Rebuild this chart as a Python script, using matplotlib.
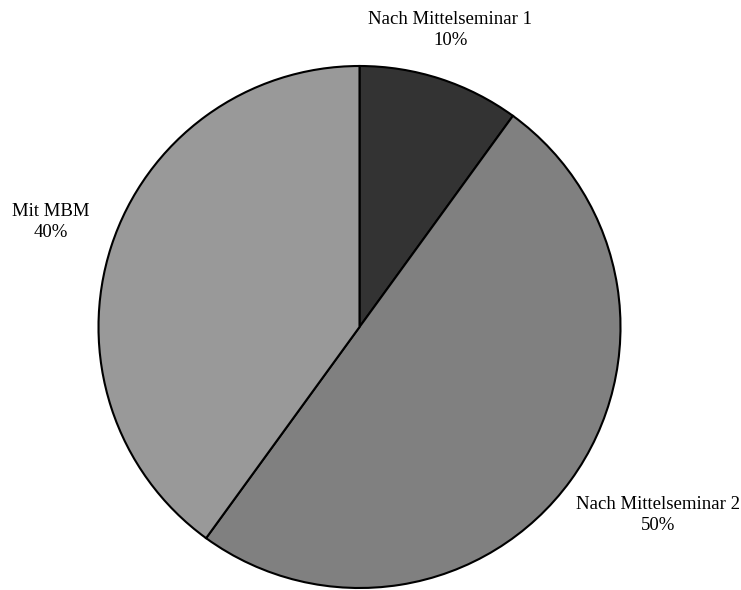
import numpy as np
import matplotlib.pyplot as plt

labels = ['Nach Mittelseminar 1', 'Nach Mittelseminar 2', 'Mit MBM']
shares = [10, 50, 40]
colors = ['#333333', '#808080', '#999999']

plt.rcParams['font.family'] = ['Liberation Serif', 'DejaVu Serif']

fig = plt.figure(figsize=(7.41, 5.90), dpi=100)
ax = fig.add_axes([0, 0, 1, 1])

cx, cy, r = 359.5, 263, 261
wedges, _ = ax.pie(shares, colors=colors, startangle=90, counterclock=False,
                   center=(cx, cy), radius=r, frame=True,
                   wedgeprops=dict(edgecolor='black', linewidth=1.5))
ax.set_xlim(0, 741)
ax.set_ylim(0, 590)
ax.set_aspect('equal')
ax.axis('off')

# label distance (relative to radius) and small angle shift, Excel-like placement
dist = [1.19, 1.352, 1.249]
shift = [1.0, 3.8, -0.8]
for w, lab, val, d, s in zip(wedges, labels, shares, dist, shift):
    ang = np.deg2rad((w.theta1 + w.theta2) / 2 + s)
    x = cx + d * r * np.cos(ang)
    y = cy + d * r * np.sin(ang)
    ax.text(x, y, f'{lab}\n{val}%', ha='center', va='center',
            fontsize=13.5, linespacing=1.3)

fig.savefig('out.png', dpi=100)
